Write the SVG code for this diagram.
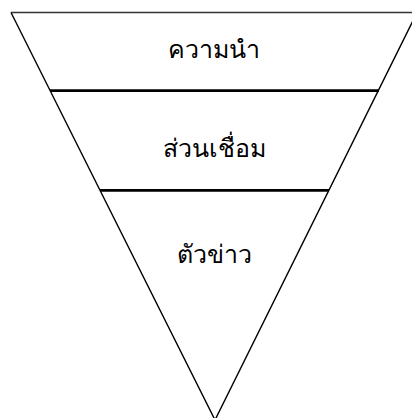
<svg xmlns="http://www.w3.org/2000/svg" width="412" height="418" viewBox="0 0 412 418">
<style>
.edge{fill:none;stroke:#000;stroke-width:1.4}
.top{stroke:#333;stroke-width:1.6}
.div{stroke:#000;stroke-width:2.7}
.lbl{font-family:"Noto Sans",sans-serif;font-size:25px;fill:#000;text-anchor:middle}
</style>
<rect width="412" height="418" fill="#fff"/>
<g id="connectors">
<line class="top" x1="11" y1="12.5" x2="417" y2="12.5"/>
<polyline class="edge" points="11,12.5 215,420 417,12.5"/>
<line class="div" x1="50" y1="90.7" x2="379" y2="90.7"/>
<line class="div" x1="100" y1="190.3" x2="329" y2="190.3"/>
</g>
<g id="node-intro"><text class="lbl" x="214" y="58">ความนำ</text></g>
<g id="node-bridge"><text class="lbl" x="214" y="157">ส่วนเชื่อม</text></g>
<g id="node-body"><text class="lbl" x="214" y="263">ตัวข่าว</text></g>
</svg>
